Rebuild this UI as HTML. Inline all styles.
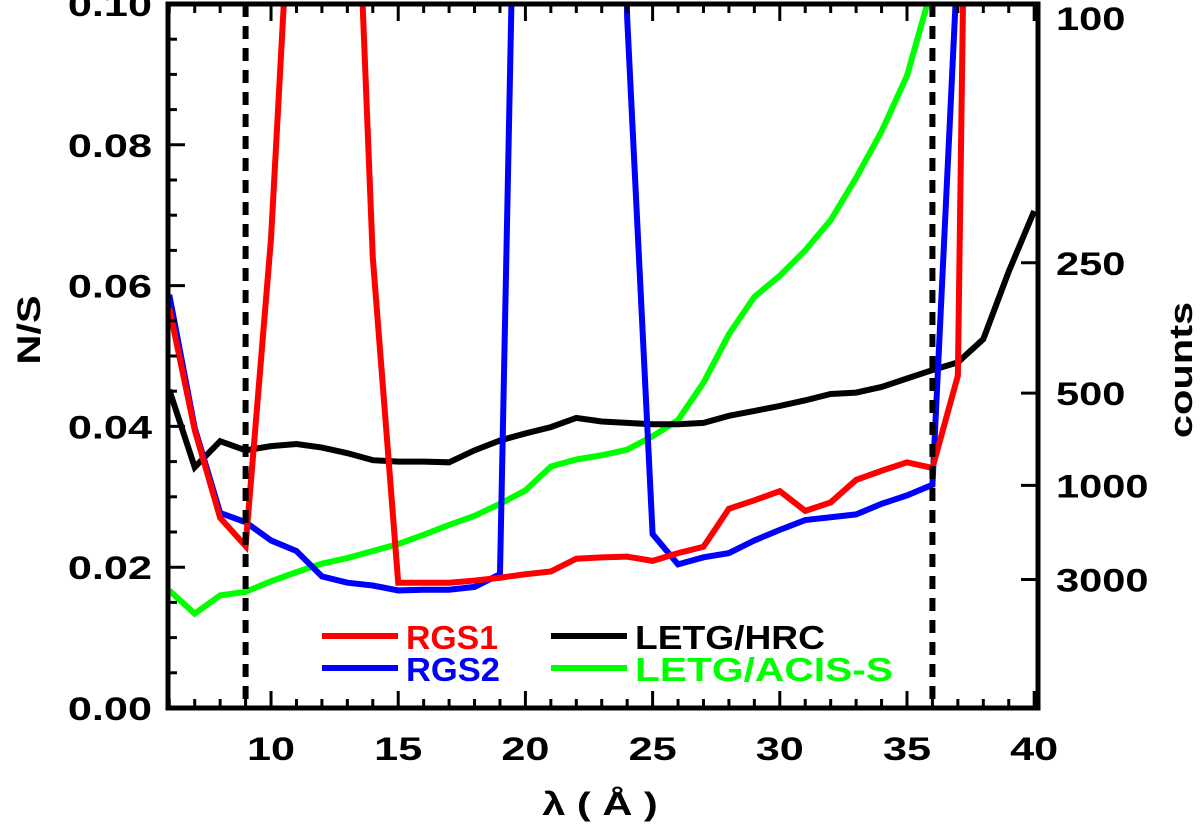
<!DOCTYPE html>
<html><head><meta charset="utf-8"><style>
html,body{margin:0;padding:0;background:#fff;}
svg{display:block;font-family:"Liberation Sans",sans-serif;font-weight:bold;}
</style></head><body>
<svg id="chart" width="1200" height="829" viewBox="0 0 1200 829"></svg>
<script>
const xs = [6,7,8,9,10,11,12,13,14,15,16,17,18,19,20,21,22,23,24,25,26,27,28,29,30,31,32,33,34,35,36,37,38,39,40];
const rgs1 = [0.0568,0.0395,0.027,0.023,0.0667,0.133,0.2,0.154,0.064,0.0178,0.0178,0.0178,0.0181,0.0185,0.019,0.0194,0.0212,0.0214,0.0215,0.0209,0.022,0.0229,0.0283,0.0295,0.0308,0.028,0.0292,0.0324,0.0337,0.0349,0.0341,0.0472,0.31,0.4,0.4];
const rgs2 = [0.0587,0.0398,0.0277,0.0264,0.0238,0.0223,0.0187,0.0178,0.0174,0.0167,0.0168,0.0168,0.0172,0.019,0.199,0.3,0.3,0.3,0.098,0.0247,0.0204,0.0214,0.022,0.0238,0.0253,0.0267,0.0271,0.0275,0.029,0.0302,0.0317,0.107,0.3,0.4,0.4];
const letgHrc = [0.0452,0.0342,0.0379,0.0366,0.0372,0.0375,0.037,0.0362,0.0352,0.035,0.035,0.0349,0.0366,0.038,0.039,0.0399,0.0412,0.0407,0.0405,0.0403,0.0403,0.0405,0.0415,0.0422,0.0429,0.0437,0.0446,0.0448,0.0456,0.0468,0.048,0.0491,0.0524,0.062,0.0706];
const letgAcis = [0.0167,0.0134,0.016,0.0165,0.018,0.0193,0.0205,0.0213,0.0223,0.0233,0.0246,0.026,0.0273,0.029,0.0309,0.0343,0.0353,0.0359,0.0367,0.0386,0.0409,0.0462,0.0531,0.0584,0.0614,0.065,0.0693,0.0753,0.0819,0.0898,0.1026];
const xTicks = [10,15,20,25,30,35,40];
const yTicks = [0,0.02,0.04,0.06,0.08,0.10];
const yTickLabels = ["0.00","0.02","0.04","0.06","0.08","0.10"];
const countTicks = [100,250,500,1000,3000];
const dashedAt = [9,36];

const NS='http://www.w3.org/2000/svg';
const svg=document.getElementById('chart');
const L=168,R=1038,T=4,B=708,XMIN=5.95,XMAX=40.15;
const X=v=>L+(v-XMIN)/(XMAX-XMIN)*(R-L);
const Y=v=>B-v/0.1*(B-T);
function mk(tag,attrs,parent){const e=document.createElementNS(NS,tag);for(const k in attrs)e.setAttribute(k,attrs[k]);(parent||svg).appendChild(e);return e;}
function stretch(t,f){const w=t.getComputedTextLength();t.setAttribute('textLength',w*f);t.setAttribute('lengthAdjust','spacingAndGlyphs');}

const defs=mk('defs',{});
const cp=mk('clipPath',{id:'plotclip'},defs);
mk('rect',{x:L,y:T,width:R-L,height:B-T},cp);

const plot=mk('g',{'clip-path':'url(#plotclip)'});



function line(vals,color,name){
  const pts=vals.map((v,i)=>X(xs[i])+','+Y(v)).join(' ');
  const p=mk('polyline',{points:pts,fill:'none',stroke:color,'stroke-width':6,'stroke-linejoin':'miter'},plot);
  
  
}
line(letgAcis,'#00ff00','letg-acis-s-line');
line(letgHrc,'#000000','letg-hrc-line');
line(rgs2,'#0000ff','rgs2-line');
line(rgs1,'#ff0000','rgs1-line');

dashedAt.forEach(d=>{
  const e=mk('line',{x1:X(d),x2:X(d),y1:T,y2:B,stroke:'#000','stroke-width':6,'stroke-dasharray':'13 9'});
  
  
});

const frame=mk('rect',{x:L,y:T,width:R-L,height:B-T,fill:'none',stroke:'#000','stroke-width':5});



for(let v=6;v<=40;v++){
  const len=(v%5===0)?17:9;
  mk('line',{x1:X(v),x2:X(v),y1:B,y2:B-len,stroke:'#000','stroke-width':3});
  mk('line',{x1:X(v),x2:X(v),y1:T,y2:T+len,stroke:'#000','stroke-width':3});
}
xTicks.forEach(v=>{
  const t=mk('text',{x:X(v),y:B+52,'text-anchor':'middle','font-size':32});
  t.textContent=v;
  
  
  stretch(t,1.35);
});
for(let i=0;i<=20;i++){
  const v=i*0.005;const len=(i%4===0)?17:9;
  mk('line',{x1:L,x2:L+len,y1:Y(v),y2:Y(v),stroke:'#000','stroke-width':3});
}
yTicks.forEach((v,i)=>{
  const t=mk('text',{x:152,y:Y(v)+12,'text-anchor':'end','font-size':32});
  t.textContent=yTickLabels[i];
  
  
  stretch(t,1.35);
});
countTicks.forEach(c=>{
  const y=Y(1/Math.sqrt(c));
  mk('line',{x1:R,x2:R-17,y1:y,y2:y,stroke:'#000','stroke-width':3});
  const t=mk('text',{x:1056,y:Math.max(y+12,30),'font-size':32});
  t.textContent=c;
  
  
  stretch(t,1.3);
});

let t=mk('text',{x:600,y:815,'text-anchor':'middle','font-size':32});
t.textContent='λ ( Å )';


stretch(t,1.3);
t=mk('text',{x:0,y:0,'text-anchor':'middle','font-size':32,transform:'translate(40,330) rotate(-90)'});
t.textContent='N/S';


stretch(t,1.3);
t=mk('text',{x:0,y:0,'text-anchor':'middle','font-size':32,transform:'translate(1192,370) rotate(-90)'});
t.textContent='counts';


stretch(t,1.3);

const legend=[['RGS1','#ff0000',322,636,92],['RGS2','#0000ff',322,668,94],['LETG/HRC','#000000',551,636,190],['LETG/ACIS-S','#00ff00',551,668,258]];
legend.forEach(([lab,col,x,y,w])=>{
  const g=mk('g',{});
  
  
  mk('line',{x1:x,x2:x+76,y1:y,y2:y,stroke:col,'stroke-width':6},g);
  const tt=mk('text',{x:x+84,y:y+13,'font-size':33,fill:col,textLength:w,lengthAdjust:'spacingAndGlyphs'},g);
  tt.textContent=lab;
});
</script>
</body></html>
